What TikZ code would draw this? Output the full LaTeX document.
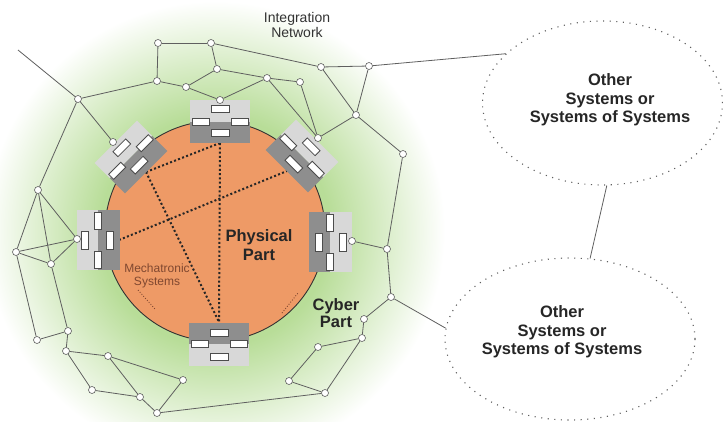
\documentclass[tikz,border=0pt]{standalone}
\usepackage{fontspec}
\setmainfont{Liberation Sans}
\usetikzlibrary{shapes.geometric}

\definecolor{physorange}{RGB}{238,154,102}
\definecolor{cybergreen}{RGB}{184,221,152}
\definecolor{modlight}{RGB}{216,216,216}
\definecolor{moddark}{RGB}{142,142,142}
\definecolor{netgray}{RGB}{95,95,95}
\definecolor{mechbrown}{RGB}{128,72,48}

\pgfdeclareradialshading{cyberglow}{\pgfpoint{0bp}{0bp}}{%
  color(0bp)=(cybergreen); color(11.5bp)=(cybergreen);
  color(23bp)=(white); color(50bp)=(white)}

\tikzset{
  netline/.style={draw=netgray, line width=0.8pt},
  hub/.style={circle, draw=netgray, fill=white, line width=0.6pt,
    inner sep=0pt, minimum size=7pt},
  linkdots/.style={draw=black!85, line width=2pt, dash pattern=on 2pt off 2.3pt},
  hintdots/.style={draw=mechbrown, line width=0.9pt, dash pattern=on 0.9pt off 1.8pt},
  slot/.style={fill=white, draw=black!70, line width=0.8pt},
  otherbox/.style={ellipse, draw=netgray, line width=1.1pt, dash pattern=on 1.1pt off 5.5pt,
    minimum width=240pt, minimum height=164pt, inner sep=0pt},
  bigtext/.style={font=\fontsize{16.5}{18.5}\selectfont\bfseries, text=black!85, align=center},
  % one mechatronic unit: light half outside, dark half towards the centre
  module/.pic={
    \fill[modlight] (-30,-21.5) rectangle (30,0);
    \fill[moddark] (-30,0) rectangle (30,21.5);
    \draw[slot] (-9,-16.5) rectangle (9,-9.5);
    \draw[slot] (-28,-3.5) rectangle (-11,3.5);
    \draw[slot] (11,-3.5) rectangle (28,3.5);
    \draw[slot] (-9,8) rectangle (9,15);
    \coordinate (-in) at (0,21.5);
  }
}

\begin{document}
\begin{tikzpicture}[x=1pt,y=-1pt]
  \useasboundingbox (0,0) rectangle (723,421);

  % Cyber part (green glow)
  \shade[shading=cyberglow] (215,231) circle[radius=250pt];

  % Physical part
  \draw[fill=physorange, draw=black!80, line width=0.9pt] (215,231) circle[radius=110pt];

  % links between the units
  \draw[linkdots] (220,143) -- (219,322);
  \draw[linkdots] (220,143) -- (146,172);
  \draw[linkdots] (146,172) -- (219,322);
  \draw[linkdots] (119,240) -- (287,171);
  \draw[hintdots] (138,290) -- (155,309);
  \draw[hintdots] (282,313) -- (298,293);

  % units on the rim
  \pic (top) at (220,121.5) {module};
  \pic[rotate=45] (ul) at (131,157) {module};
  \pic[rotate=-45] (ur) at (302,156) {module};
  \pic[rotate=90] (lft) at (98,240) {module};
  \pic[rotate=-90] (rgt) at (330,242) {module};
  \pic[rotate=180] (bot) at (219,344) {module};

  % Integration network: hubs
  \coordinate (netend) at (18,50);
  \foreach \n/\x/\y in {a1/158/43, a2/211/43, a3/217/69, a4/157/81, a5/186/87,
      a6/267/78, a7/300/82, a8/321/67, a9/369/66, a10/356/115, a11/403/154,
      mt/220/100, mul/113/142, mur/318/138, ml/77/239, mr/352/241,
      l1/78/99, l2/38/190, l3/16/252, l4/51/264, l5/68/331, l6/37/340, l7/66/351,
      b1/108/356, b2/183/380, b3/92/390, b4/140/397, b5/157/413,
      r1/387/249, r2/391/297, r3/364/319, r4/362/338, r5/318/347, r6/289/381, r7/325/393}
    \node[hub] (\n) at (\x,\y) {};

  % Other systems
  \node[otherbox] (other1) at (602.5,103) {};
  \node[otherbox, minimum width=250pt, minimum height=162pt] (other2) at (570,339) {};
  \node[bigtext] (other1txt) at (610,100) {Other\\Systems or\\Systems of Systems};
  \node[bigtext] (other2txt) at (562,332) {Other\\Systems or\\Systems of Systems};

  % Integration network: lines
  \foreach \a/\b in {netend/l1, l1/a4, a4/a1, a1/a2, a2/a8, a2/a3, a4/a5, a5/a3,
      a3/a6, a5/mt, a6/mt, a6/a7, a7/mur, a6/mur, mur/a10, a8/a9, a8/a10, a9/a10,
      a10/a11, a11/r1, l1/mul, l1/l2, l2/ml, l2/l3, l2/l4, l3/ml, l3/l4, l4/ml,
      l3/l6, l6/l5, l4/l5, l5/l7, l7/b1, l7/b3, b3/b4, b1/b4, b1/b2, b4/b5, b2/b5,
      b5/r7, mr/r1, r1/r2, r2/r3, r3/r4, r4/r5, r4/r7, r5/r6, r6/r7}
    \draw[netline] (\a) -- (\b);
  \draw[netline] (a9) -- (other1.153);
  \draw[netline] (r2) -- (other2.175);
  \draw[netline] (other1.273) -- (other2.76);

  % labels
  \node[font=\fontsize{14}{15}\selectfont, text=black!80, align=center] (netlabel) at (297,25) {Integration\\Network};
  \node[bigtext] (physlabel) at (259,245) {Physical\\Part};
  \node[bigtext, font=\fontsize{16.5}{16.5}\selectfont\bfseries] (cyberlabel) at (336,313) {Cyber\\Part};
  \node[font=\fontsize{12}{13}\selectfont, text=mechbrown, align=center] (mechlabel) at (157,276) {Mechatronic\\Systems};
\end{tikzpicture}
\end{document}
